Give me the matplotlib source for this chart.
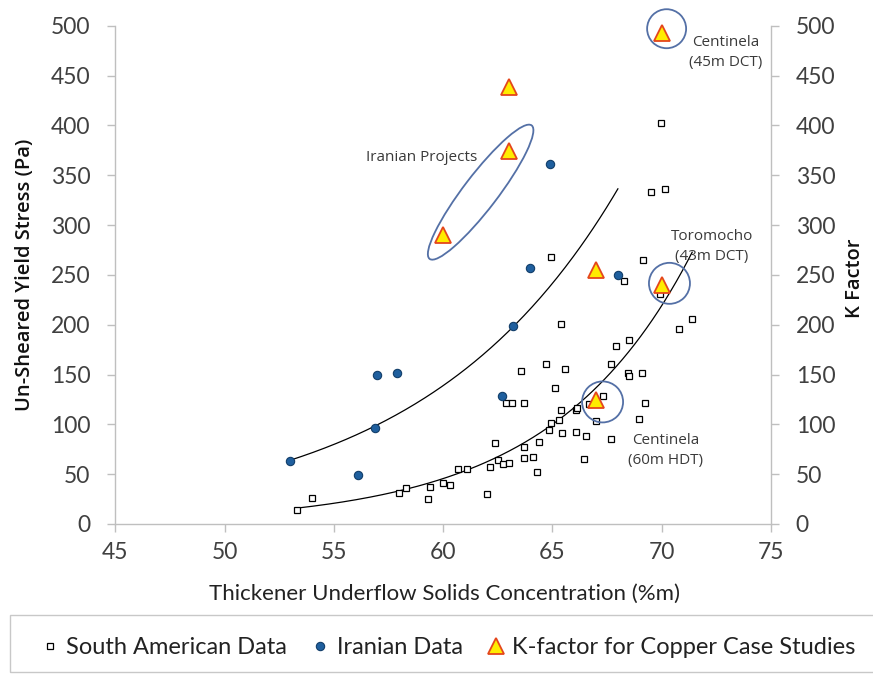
import numpy as np
import matplotlib
matplotlib.use("Agg")
import matplotlib.pyplot as plt
from matplotlib.patches import Ellipse, Rectangle
from matplotlib.transforms import ScaledTranslation
from matplotlib.lines import Line2D

# South American thickener underflow data
sa_x = [53.3, 54.0, 58.0, 58.3, 59.3, 59.4, 60.0, 60.3, 60.7, 61.1,
        62.0, 62.15, 62.4, 62.5, 62.75, 63.0, 62.9, 63.15, 63.55, 63.7,
        63.7, 63.7, 64.1, 64.3, 64.4, 64.7, 64.85, 64.95, 65.1, 64.95,
        65.3, 65.4, 65.45, 65.4, 65.6, 66.1, 66.1, 66.15, 66.45, 66.55,
        66.7, 67.0, 67.3, 67.7, 67.7, 67.9, 68.3, 68.45, 68.5, 68.5,
        68.95, 69.1, 69.15, 69.25, 69.5, 69.95, 69.98, 70.15, 70.8, 71.4]
sa_y = [14, 26, 31, 36, 25, 37, 41, 39, 55, 55,
        30, 57, 81, 64, 60, 61, 121, 121, 154, 121,
        77, 66, 67, 52, 82, 161, 94, 101, 136, 268,
        104, 114, 91, 201, 156, 92, 114, 116, 65, 88,
        120, 103, 128, 85, 161, 179, 244, 152, 149, 185,
        105, 152, 265, 121, 333, 231, 402, 336, 196, 206]

# Iranian data
ir_x = [53.0, 56.1, 56.9, 57.0, 57.9, 62.7, 63.2, 64.0, 64.9, 68.0]
ir_y = [63, 49, 96, 150, 152, 128, 199, 257, 361, 250]

# K-factor for copper case studies (right axis)
k_x = [60, 63, 63, 67, 67, 70, 70]
k_y = [290, 374, 439, 255, 124, 240, 493]

x_ticks = [45, 50, 55, 60, 65, 70, 75]
y_ticks = [0, 50, 100, 150, 200, 250, 300, 350, 400, 450, 500]

GRAY = "#bfbfbf"
TXT = "#404040"
TICKFONT = "Lato"

fig = plt.figure(figsize=(8.73, 6.77), dpi=100)
ax = fig.add_axes([0.132, 0.226, 0.751, 0.736])
ax2 = ax.twinx()

ax.set_xlim(45, 75)
ax.set_ylim(0, 500)
ax2.set_ylim(0, 500)
ax.set_xticks(x_ticks)
ax.set_yticks(y_ticks)
ax2.set_yticks(y_ticks)

for a in (ax, ax2):
    for s in a.spines.values():
        s.set_visible(False)
ax.spines["left"].set_visible(True)
ax.spines["bottom"].set_visible(True)
ax2.spines["right"].set_visible(True)
for s in (ax.spines["left"], ax.spines["bottom"], ax2.spines["right"]):
    s.set_color(GRAY)
    s.set_linewidth(1.0)

ax.tick_params(axis="both", direction="out", length=6, width=1.0, color=GRAY,
               labelcolor=TXT, labelsize=16.5)
ax.tick_params(axis="y", pad=12)
ax.tick_params(axis="x", pad=7)
ax2.tick_params(axis="y", direction="out", length=6, width=1.0, color=GRAY,
                labelcolor=TXT, labelsize=16.5, pad=12)
for lbl in ax.get_xticklabels() + ax.get_yticklabels() + ax2.get_yticklabels():
    lbl.set_fontfamily(TICKFONT)

# exponential trendlines fitted to each data set
def exp_trend(x, y):
    x = np.asarray(x, float)
    y = np.asarray(y, float)
    b, lna = np.polyfit(x, np.log(y), 1)
    xs = np.linspace(x.min(), x.max(), 200)
    return xs, np.exp(lna) * np.exp(b * xs)

tx, ty = exp_trend(sa_x, sa_y)
ax.plot(tx, ty, color="black", lw=0.9, zorder=2)
tx, ty = exp_trend(ir_x, ir_y)
ax.plot(tx, ty, color="black", lw=0.9, zorder=2)

ax.plot(sa_x, sa_y, ls="none", marker="s", ms=4.3, mfc="white", mec="black",
        mew=0.9, zorder=3)
ax.plot(ir_x, ir_y, ls="none", marker="o", ms=6, mfc="#1f5f9e", mec="#123e6a",
        mew=0.8, zorder=4)
ax2.plot(k_x, k_y, ls="none", marker="^", ms=12, mfc="#ffec00", mec="#e4461c",
         mew=1.3, zorder=5, clip_on=False)

# outline shapes sized in pixels and anchored at data points
ECOL = "#5470a6"


def px_ellipse(a, xc, yc, w_px, h_px, angle=0.0):
    tr = fig.dpi_scale_trans + ScaledTranslation(xc, yc, a.transData)
    e = Ellipse((0, 0), w_px / fig.dpi, h_px / fig.dpi, angle=angle,
                transform=tr, fill=False, edgecolor=ECOL, lw=1.3, zorder=6,
                clip_on=False)
    a.add_patch(e)


px_ellipse(ax2, 61.72, 333, 168, 34, 52.6)
px_ellipse(ax2, 70.23, 497, 39, 39)
px_ellipse(ax2, 70.36, 241.5, 41, 41)
px_ellipse(ax2, 67.3, 122.5, 41, 41)

ANN = dict(fontsize=11, color="#3a3a3a", family="Open Sans",
           ha="center", va="center", linespacing=1.45)
ax2.text(59.0, 368, "Iranian Projects", **ANN)
ax2.text(72.92, 473, "Centinela\n(45m DCT)", **ANN)
ax2.text(72.29, 278, "Toromocho\n(43m DCT)", **ANN)
ax2.text(70.18, 73.5, "Centinela\n(60m HDT)", **ANN)

ax.set_xlabel("Thickener Underflow Solids Concentration (%m)", fontsize=16,
              family="Lato", color="#222222")
ax.xaxis.set_label_coords(0.5015, -0.121)
ax.set_ylabel("Un-Sheared Yield Stress (Pa)", fontsize=14.5, family="Open Sans",
              fontweight="semibold", color="#111111")
ax.yaxis.set_label_coords(-0.122, 0.5)
ax2.set_ylabel("K Factor", fontsize=14.5, family="Open Sans",
               fontweight="semibold", color="#111111")
ax2.yaxis.set_label_coords(1.113, 0.494)

# legend box along the bottom
fig.patches.append(Rectangle((0.0115, 0.007), 1.0, 0.0845,
                             transform=fig.transFigure, fill=False,
                             edgecolor="#c8c8c8", lw=1.0))
handles = [
    Line2D([], [], ls="none", marker="s", ms=4.3, mfc="white", mec="black", mew=0.9),
    Line2D([], [], ls="none", marker="o", ms=6, mfc="#1f5f9e", mec="#123e6a", mew=0.8),
    Line2D([], [], ls="none", marker="^", ms=12, mfc="#ffec00", mec="#e4461c", mew=1.3),
]
labels = ["South American Data", "Iranian Data", "K-factor for Copper Case Studies"]
fig.legend(handles, labels, loc="center", bbox_to_anchor=(0.513, 0.043), ncol=3,
           frameon=False, handlelength=0.8, handletextpad=0.3, columnspacing=1.0,
           prop={"family": "Lato", "size": 17}, labelcolor="#222222")

fig.savefig("out.png", dpi=100)
